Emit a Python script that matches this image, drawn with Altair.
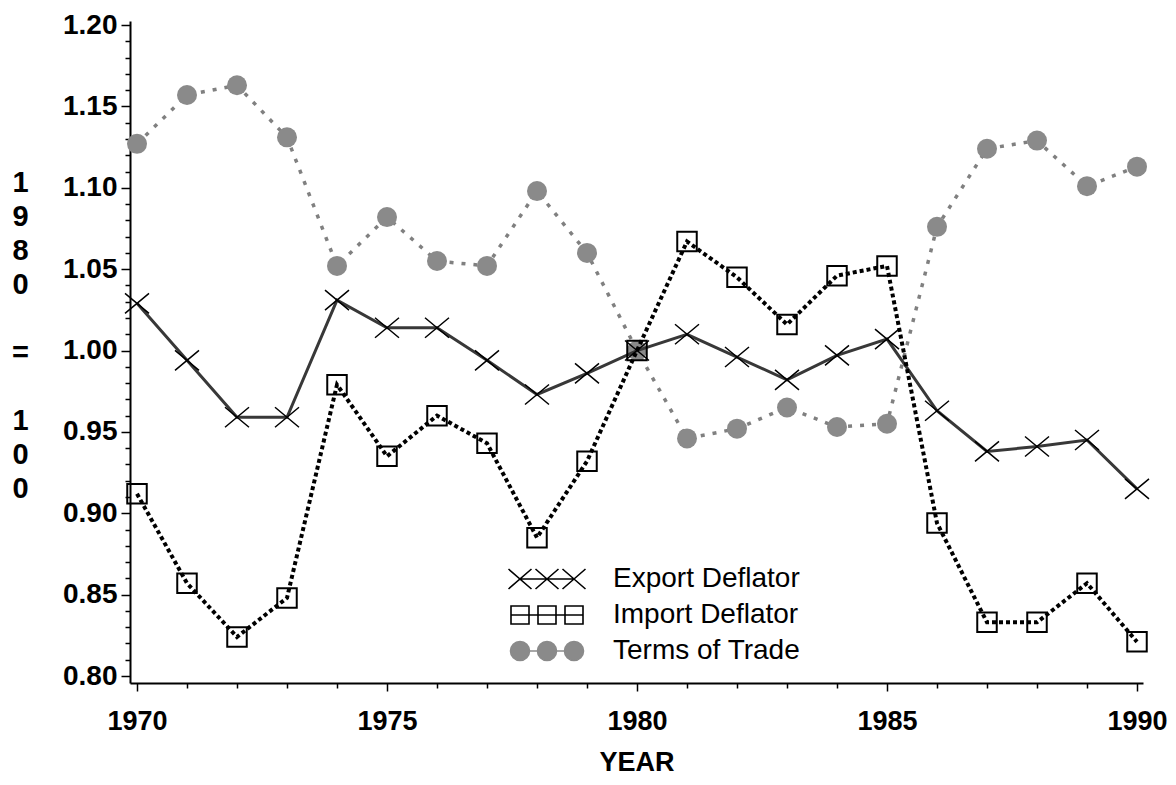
import altair as alt
import pandas as pd

years = list(range(1970, 1991))
series_names = ["Export Deflator", "Import Deflator", "Terms of Trade"]
export_deflator = [1.029, 0.994, 0.959, 0.959, 1.031, 1.014, 1.014, 0.994, 0.973, 0.986, 1.000,
                   1.010, 0.996, 0.982, 0.997, 1.007, 0.963, 0.938, 0.941, 0.945, 0.915]
import_deflator = [0.912, 0.857, 0.824, 0.848, 0.979, 0.935, 0.960, 0.943, 0.885, 0.932, 1.000,
                   1.067, 1.045, 1.016, 1.046, 1.052, 0.894, 0.833, 0.833, 0.857, 0.821]
terms_of_trade = [1.127, 1.157, 1.163, 1.131, 1.052, 1.082, 1.055, 1.052, 1.098, 1.060, 1.000,
                  0.946, 0.952, 0.965, 0.953, 0.955, 1.076, 1.124, 1.129, 1.101, 1.113]
y_tick_values = [round(0.80 + 0.01 * i, 2) for i in range(41)]
y_title_lines = ["1", "9", "8", "0", "\u200b", "=", "\u200b", "1", "0", "0"]

rows = []
for name, vals in zip(series_names, [export_deflator, import_deflator, terms_of_trade]):
    for yr, v in zip(years, vals):
        rows.append({"year": yr, "value": v, "series": name})
df = pd.DataFrame(rows)

FONT = "Liberation Sans"

x_enc = alt.X(
    "year:Q",
    scale=alt.Scale(domain=[1969.86, 1990.12], nice=False, zero=False),
    axis=alt.Axis(
        values=years,
        format="d",
        labelExpr="datum.value % 5 === 0 ? datum.label : ''",
        tickSize={"condition": {"test": "datum.value % 5 === 0", "value": 8}, "value": 5},
        grid=False, domainColor="black", domainWidth=2, tickColor="black", tickWidth=1.5,
        labelFont=FONT, labelFontWeight="bold", labelFontSize=27, labelColor="black",
        labelPadding=17, labelFlush=False, labelOverlap=False,
        title="YEAR", titleFont=FONT, titleFontWeight="bold", titleFontSize=27,
        titleColor="black", titleBaseline="alphabetic", titleY=87,
    ),
)
major_y = "abs(datum.value*20 - round(datum.value*20)) < 0.001"
y_enc = alt.Y(
    "value:Q",
    scale=alt.Scale(domain=[0.7957, 1.2025], nice=False, zero=False),
    axis=alt.Axis(
        values=y_tick_values,
        labelExpr=major_y + " ? format(datum.value, '.2f') : ''",
        tickSize={"condition": {"test": major_y, "value": 9}, "value": 5},
        grid=False, domainColor="black", domainWidth=2, tickColor="black", tickWidth=1.5,
        labelFont=FONT, labelFontWeight="bold", labelFontSize=28, labelColor="black",
        labelPadding=4, labelOverlap=False, labelFlush=False,
        title=y_title_lines, titleAngle=0, titleFont=FONT, titleFontWeight="bold",
        titleFontSize=29, titleColor="black", titleAlign="center", titleBaseline="middle",
        titleLineHeight=34, titleX=-110, titleY=161,
    ),
)

base = alt.Chart(df)

def sel(name):
    return base.transform_filter(alt.datum.series == name)

X_PATH = "M-1.2,-1L1.2,1M-1.2,1L1.2,-1"
SQ_PATH = "M-1,-1H1V1H-1Z"

tot_line = sel("Terms of Trade").mark_line(
    color="#808080", strokeWidth=3.5, strokeDash=[4, 8]
).encode(x=x_enc, y=y_enc)
tot_pts = sel("Terms of Trade").mark_point(
    shape="circle", filled=True, fill="#8a8a8a", size=400, opacity=1
).encode(x=x_enc, y=y_enc)

exp_line = sel("Export Deflator").mark_line(
    color="#383838", strokeWidth=3
).encode(x=x_enc, y=y_enc)
exp_pts = sel("Export Deflator").mark_point(
    shape=X_PATH, filled=False, stroke="black", strokeWidth=1.5, size=400, opacity=1
).encode(x=x_enc, y=y_enc)

imp_line = sel("Import Deflator").mark_line(
    color="black", strokeWidth=4, strokeDash=[4, 3]
).encode(x=x_enc, y=y_enc)
imp_pts = sel("Import Deflator").mark_point(
    shape=SQ_PATH, filled=False, stroke="black", strokeWidth=2, size=380, opacity=1
).encode(x=x_enc, y=y_enc)

LEG_EXP = ("M-3.85,-1L-1.55,1M-3.85,1L-1.55,-1M-1.15,-1L1.15,1M-1.15,1L1.15,-1"
           "M1.55,-1L3.85,1M1.55,1L3.85,-1M-2.7,0L2.7,0")
LEG_IMP = ("M-3.6,-0.9H-1.8V0.9H-3.6ZM-0.9,-0.9H0.9V0.9H-0.9ZM1.8,-0.9H3.6V0.9H1.8Z"
           "M-3.6,0H3.6")
LEG_TOT = ("M-3.65,0A0.95,0.95 0 1,0 -1.75,0A0.95,0.95 0 1,0 -3.65,0Z"
           "M-0.95,0A0.95,0.95 0 1,0 0.95,0A0.95,0.95 0 1,0 -0.95,0Z"
           "M1.75,0A0.95,0.95 0 1,0 3.65,0A0.95,0.95 0 1,0 1.75,0Z"
           "M-1.75,0H-0.95M0.95,0H1.75")

leg = alt.Legend(
    title=None, orient="none", legendX=403, legendY=544,
    symbolSize=400, symbolStrokeWidth=1.6, labelOffset=52, labelLimit=400,
    labelFont=FONT, labelFontSize=28, labelColor="black", rowPadding=8,
    symbolOpacity=1,
)
legend_layer = base.transform_filter("false").mark_point(opacity=1).encode(
    x=x_enc, y=y_enc,
    shape=alt.Shape("series:N", scale=alt.Scale(domain=series_names, range=[LEG_EXP, LEG_IMP, LEG_TOT]), legend=leg),
    fill=alt.Fill("series:N", scale=alt.Scale(domain=series_names, range=["transparent", "transparent", "#8a8a8a"]), legend=leg),
    stroke=alt.Stroke("series:N", scale=alt.Scale(domain=series_names, range=["black", "black", "#8a8a8a"]), legend=leg),
)

chart = alt.layer(
    tot_line, tot_pts, exp_line, exp_pts, imp_line, imp_pts, legend_layer
).properties(
    width=1013, height=662,
    autosize=alt.AutoSizeParams(type="none"),
    padding={"left": 122, "top": 13, "right": 25, "bottom": 94},
    background="white",
).configure_view(stroke=None)

chart.save("out.html", embed_options={"renderer": "svg", "actions": False})
